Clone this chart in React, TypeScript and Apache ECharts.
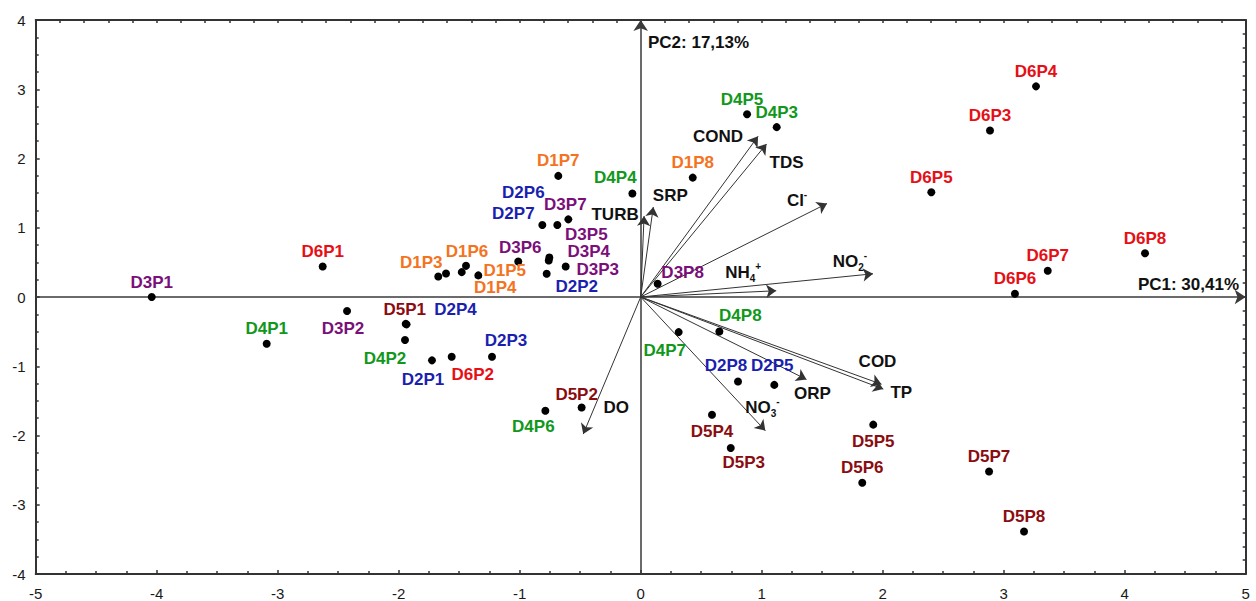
import React, { useEffect, useRef } from "react";
import * as echarts from "echarts";

// ---- Data (PCA scores) ----
const groupD1: [string, number, number][] = [
  ["D1P3", -1.673, 0.297],
  ["", -1.609, 0.34],
  ["D1P5", -1.479, 0.359],
  ["D1P6", -1.444, 0.45],
  ["D1P4", -1.342, 0.312],
  ["D1P7", -0.681, 1.749],
  ["D1P8", 0.43, 1.724],
];
const groupD2: [string, number, number][] = [
  ["D2P1", -1.725, -0.915],
  ["D2P2", -0.777, 0.335],
  ["D2P3", -1.229, -0.862],
  ["D2P4", -1.935, -0.395],
  ["D2P5", 1.104, -1.269],
  ["D2P6", -0.689, 1.039],
  ["D2P7", -0.813, 1.039],
  ["D2P8", 0.804, -1.221],
];
const groupD3: [string, number, number][] = [
  ["D3P1", -4.041, 0.0],
  ["D3P2", -2.427, -0.201],
  ["D3P3", -0.62, 0.441],
  ["D3P4", -0.76, 0.527],
  ["D3P5", -0.755, 0.57],
  ["D3P6", -1.012, 0.513],
  ["D3P7", -0.598, 1.121],
  ["D3P8", 0.14, 0.191],
];
const groupD4: [string, number, number][] = [
  ["D4P1", -3.091, -0.675],
  ["D4P2", -1.948, -0.622],
  ["D4P3", 1.124, 2.453],
  ["D4P4", -0.069, 1.494],
  ["D4P5", 0.879, 2.639],
  ["D4P6", -0.788, -1.642],
  ["D4P7", 0.314, -0.507],
  ["D4P8", 0.65, -0.499],
];
const groupD5: [string, number, number][] = [
  ["D5P1", -1.942, -0.388],
  ["D5P2", -0.488, -1.595],
  ["D5P3", 0.744, -2.18],
  ["D5P4", 0.589, -1.7],
  ["D5P5", 1.922, -1.843],
  ["D5P6", 1.831, -2.683],
  ["D5P7", 2.879, -2.519],
  ["D5P8", 3.168, -3.386],
];
const groupD6: [string, number, number][] = [
  ["D6P1", -2.628, 0.441],
  ["D6P2", -1.562, -0.862],
  ["D6P3", 2.887, 2.404],
  ["D6P4", 3.267, 3.042],
  ["D6P5", 2.402, 1.513],
  ["D6P6", 3.093, 0.047],
  ["D6P7", 3.364, 0.378],
  ["D6P8", 4.168, 0.632],
];

// ---- Data (PCA loadings / vectors) ----
const vectorNames = ["TURB", "SRP", "COND", "TDS", "Cl", "NH4", "NO2", "ORP", "COD", "TP", "NO3", "DO"];
const vectorX = [0.028, 0.104, 0.97, 1.04, 1.54, 1.12, 1.92, 1.37, 1.99, 2.005, 1.03, -0.475];
const vectorY = [1.17, 1.3, 2.32, 2.21, 1.35, 0.09, 0.335, -1.19, -1.26, -1.33, -1.93, -1.98];
const vectorLabels = [
  "TURB",
  "SRP",
  "COND",
  "TDS",
  "Cl{sup|-}",
  "NH{sub|4}{sup|+}",
  "NO{sub|2}{sup|-}",
  "ORP",
  "COD",
  "TP",
  "NO{sub|3}{sup|-}",
  "DO",
];

const axisTitleX = "PC1: 30,41%";
const axisTitleY = "PC2: 17,13%";

// ---- Styling / layout config ----
const FONT = "'Liberation Sans', Arial, sans-serif";
const groupColors: Record<string, string> = {
  D1: "#F47321",
  D2: "#1A1FB0",
  D3: "#7A0F7A",
  D4: "#11981C",
  D5: "#8A0C10",
  D6: "#E60F16",
};
const pointLabelOffset: Record<string, [number, number]> = {
  D3P2: [-4, 18],
  D5P1: [-1, -14],
  D2P4: [49, -15],
  D4P2: [-20, 18],
  D2P1: [-9, 19],
  D6P2: [21, 18],
  D2P3: [14, -16],
  D4P6: [-12, 16],
  D5P2: [-5, -13],
  D4P7: [-14, 18],
  D4P8: [21, -16],
  D2P8: [-12, -16],
  D2P5: [-2, -19],
  D5P4: [0, 17],
  D5P3: [13, 15],
  D5P5: [0, 17],
  D4P5: [-5, -15],
  D4P4: [-17, -16],
  D2P6: [-34, -33],
  D2P7: [-29, -12],
  D3P7: [-3, -15],
  D3P5: [37, -23],
  D3P4: [40, -9],
  D3P3: [32, 3],
  D2P2: [30, 13],
  D3P6: [2, -14],
  D1P3: [-17, -14],
  D1P6: [1, -14],
  D1P5: [43, -2],
  D1P4: [17, 12],
  D3P8: [25, -11],
};
const vectorLabelOffset: [number, number][] = [
  [-29, -1],
  [17, -11],
  [-40, 0],
  [20, 19],
  [-30, -3],
  [-33, -18],
  [-23, -12],
  [6, 14],
  [-4, -23],
  [18, 3],
  [-3, -23],
  [33, -27],
];

const axisColor = "#333";

function scatterSeries(group: string, rows: [string, number, number][]) {
  return {
    type: "scatter",
    name: group,
    symbol: "circle",
    symbolSize: 8,
    z: 5,
    itemStyle: { color: "#000", opacity: 1 },
    data: rows.map(([name, x, y]) => ({
      name,
      value: [x, y],
      label: {
        show: name !== "",
        offset: pointLabelOffset[name] || [0, -15],
      },
    })),
    label: {
      show: true,
      position: "inside",
      formatter: "{b}",
      color: groupColors[group],
      opacity: 1,
      fontFamily: FONT,
      fontWeight: "bold",
      fontSize: 17,
      lineHeight: 16,
      align: "center",
      verticalAlign: "middle",
    },
  };
}

export default function App() {
  const ref = useRef<HTMLDivElement>(null);
  useEffect(() => {
    if (!ref.current) return;
    const chart = echarts.init(ref.current, undefined, { renderer: "svg" });
    const richText = {
      sub: { fontSize: 10, fontWeight: "bold", fontFamily: FONT, color: "#111", verticalAlign: "bottom", lineHeight: 22 },
      sup: { fontSize: 10, fontWeight: "bold", fontFamily: FONT, color: "#111", verticalAlign: "top", lineHeight: 22 },
    };
    const option: any = {
      animation: false,
      backgroundColor: "#fff",
      grid: { left: 35.7, right: 10.3, top: 20, bottom: 24.3 },
      xAxis: [
        {
          type: "value",
          min: -5,
          max: 5,
          interval: 1,
          position: "bottom",
          axisLine: { onZero: false, lineStyle: { color: axisColor, width: 2 } },
          axisTick: { inside: true, length: 4, lineStyle: { color: axisColor, width: 1.5 } },
          minorTick: { show: true, splitNumber: 4, length: 3, lineStyle: { color: axisColor, width: 1.5 } },
          axisLabel: { color: "#1a1a1a", fontSize: 15, fontFamily: FONT, margin: 12 },
          splitLine: { show: false },
        },
        {
          type: "value",
          min: -5,
          max: 5,
          interval: 0.2,
          position: "top",
          axisLine: { onZero: false, lineStyle: { color: axisColor, width: 2 } },
          axisTick: { inside: true, length: 3, lineStyle: { color: axisColor, width: 1.5 } },
          axisLabel: { show: false },
          splitLine: { show: false },
        },
      ],
      yAxis: [
        {
          type: "value",
          min: -4,
          max: 4,
          interval: 1,
          position: "left",
          axisLine: { onZero: false, lineStyle: { color: axisColor, width: 2 } },
          axisTick: { inside: true, length: 4, lineStyle: { color: axisColor, width: 1.5 } },
          minorTick: { show: true, splitNumber: 4, length: 3, lineStyle: { color: axisColor, width: 1.5 } },
          axisLabel: { color: "#1a1a1a", fontSize: 15, fontFamily: FONT, margin: 10 },
          splitLine: { show: false },
        },
        {
          type: "value",
          min: -4,
          max: 4,
          interval: 0.2,
          position: "right",
          axisLine: { onZero: false, lineStyle: { color: axisColor, width: 2 } },
          axisTick: { inside: true, length: 3, lineStyle: { color: axisColor, width: 1.5 } },
          axisLabel: { show: false },
          splitLine: { show: false },
        },
      ],
      series: [
        {
          type: "lines",
          coordinateSystem: "cartesian2d",
          z: 2,
          symbol: ["none", "arrow"],
          symbolSize: 11,
          lineStyle: { color: "#3a3a3a", width: 1.5, opacity: 1 },
          data: [
            { coords: [[-5, 0], [5, 0]] },
            { coords: [[0, -4], [0, 4]] },
          ],
        },
        {
          type: "lines",
          coordinateSystem: "cartesian2d",
          z: 3,
          symbol: ["none", "arrow"],
          symbolSize: 10,
          lineStyle: { color: "#333", width: 1, opacity: 1 },
          data: vectorX.map((x, i) => ({ name: vectorNames[i], coords: [[0, 0], [x, vectorY[i]]] })),
        },
        {
          type: "scatter",
          name: "loadings",
          symbolSize: 0,
          z: 4,
          silent: true,
          data: vectorX.map((x, i) => ({
            name: vectorNames[i],
            value: [x, vectorY[i]],
            label: { offset: vectorLabelOffset[i], formatter: vectorLabels[i] },
          })),
          label: {
            show: true,
            position: "inside",
            color: "#111",
            opacity: 1,
            fontFamily: FONT,
            fontWeight: "bold",
            fontSize: 17,
            align: "center",
            verticalAlign: "middle",
            rich: richText,
          },
        },
        scatterSeries("D1", groupD1),
        scatterSeries("D2", groupD2),
        scatterSeries("D3", groupD3),
        scatterSeries("D4", groupD4),
        scatterSeries("D5", groupD5),
        scatterSeries("D6", groupD6),
      ],
      graphic: [
        {
          type: "text",
          left: 648,
          top: 34,
          style: { text: axisTitleY, fill: "#111", font: `bold 17px ${FONT}` },
        },
        {
          type: "text",
          right: 17,
          top: 276,
          style: { text: axisTitleX, fill: "#111", font: `bold 17px ${FONT}` },
        },
      ],
    };
    chart.setOption(option);
    return () => chart.dispose();
  }, []);
  return (
    <div
      ref={ref}
      style={{ position: "fixed", left: 0, top: 0, width: 1256, height: 601, background: "#fff" }}
    />
  );
}
